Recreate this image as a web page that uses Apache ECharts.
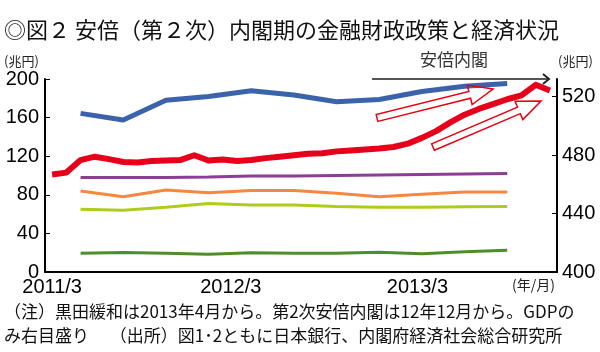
<!DOCTYPE html>
<html>
<head>
<meta charset="utf-8">
<script src="https://cdn.jsdelivr.net/npm/echarts@6/dist/echarts.min.js"></script>
<style>
  html, body { margin: 0; padding: 0; background: #fff; }
  #main { width: 600px; height: 352px; }
</style>
</head>
<body>
<div id="main"></div>
<script>
// 月次カテゴリ (2011/3 - 2014/2)
var months = ['2011/3','2011/4','2011/5','2011/6','2011/7','2011/8','2011/9','2011/10','2011/11','2011/12',
  '2012/1','2012/2','2012/3','2012/4','2012/5','2012/6','2012/7','2012/8','2012/9','2012/10','2012/11','2012/12',
  '2013/1','2013/2','2013/3','2013/4','2013/5','2013/6','2013/7','2013/8','2013/9','2013/10','2013/11','2013/12',
  '2014/1','2014/2'];
var xLabels = ['2011/3', '2012/3', '2013/3'];
// 四半期データの位置 (中間月)
var quarterMonths = ['2011/5','2011/8','2011/11','2012/2','2012/5','2012/8','2012/11','2013/2','2013/5','2013/8','2013/11'];

// 月次 (左目盛り)
var redSeries = [101, 103, 116, 119.5, 117, 114, 113.5, 115, 115.5, 116, 121, 115.5,
  116.5, 115, 116, 118, 119.5, 121, 122.5, 123, 125, 126, 127, 128,
  129.5, 133, 139, 146, 155, 163, 169, 174, 179, 183, 194, 188];
// 四半期 GDP (右目盛り)
var gdp = [508.5, 504, 517.5, 520, 524, 521, 516.5, 518, 523.5, 527, 529];
// 四半期 (左目盛り)
var purpleSeries = [98, 98, 98, 98.5, 99.5, 99.5, 100, 100.5, 101, 101.5, 102];
var orangeSeries = [84, 78, 85, 82, 84.5, 84.5, 81.5, 78, 80.5, 83, 83];
var limeSeries = [65, 64, 67, 71, 69.5, 69.5, 68, 67, 67, 67.5, 68];
var greenSeries = [19.5, 20.3, 19.5, 18.5, 20, 19.5, 19.5, 20.5, 19, 21, 22.5];

var leftTicks = [0, 40, 80, 120, 160, 200];
var rightTicks = [400, 440, 480, 520];

function quarterly(arr) {
  return quarterMonths.map(function (m, i) { return [m, arr[i]]; });
}

// 白抜き矢印
function arrowPts(x0, y0, x1, y1) {
  var sw = 3.5, hw = 10, hl = 24;
  var dx = x1 - x0, dy = y1 - y0, L = Math.sqrt(dx * dx + dy * dy);
  var ux = dx / L, uy = dy / L, nx = -uy, ny = ux;
  var kx = x1 - ux * hl, ky = y1 - uy * hl;
  return [
    [x0 + nx * sw, y0 + ny * sw], [kx + nx * sw, ky + ny * sw], [kx + nx * hw, ky + ny * hw],
    [x1, y1],
    [kx - nx * hw, ky - ny * hw], [kx - nx * sw, ky - ny * sw], [x0 - nx * sw, y0 - ny * sw]
  ];
}

var FONT = 'Liberation Sans, Arial, sans-serif';
var JFONT = 'Noto Sans CJK JP, sans-serif';

var myChart = echarts.init(document.getElementById('main'));
var option = {
  animation: false,
  title: {
    text: '◎図２ 安倍（第２次）内閣期の金融財政政策と経済状況',
    left: 4, top: 19, padding: 0,
    textStyle: { fontFamily: JFONT, fontSize: 22, fontWeight: 'normal', color: '#111' }
  },
  grid: { left: 45, right: 43, top: 79, bottom: 80, outerBoundsMode: 'none' },
  xAxis: {
    type: 'category',
    data: months,
    boundaryGap: true,
    axisLine: { lineStyle: { color: '#000', width: 2 } },
    axisTick: { inside: true, length: 5, interval: 0, lineStyle: { color: '#000', width: 1 } },
    axisLabel: {
      interval: function (i, v) { return xLabels.indexOf(v) >= 0; },
      margin: 5,
      formatter: function (v) {
        var k = xLabels.indexOf(v);
        return '{l' + k + '|' + v + '}';
      },
      rich: {
        l0: { fontFamily: FONT, fontSize: 20, color: '#000', padding: [0, 0, 0, 0] },
        l1: { fontFamily: FONT, fontSize: 20, color: '#000', padding: [0, 0, 0, 16] },
        l2: { fontFamily: FONT, fontSize: 20, color: '#000', padding: [0, 0, 0, 48] }
      }
    },
    splitLine: { show: false }
  },
  yAxis: [{
    type: 'value', min: 0, max: 200, interval: 40,
    axisLine: { show: true, lineStyle: { color: '#000', width: 2 } },
    axisTick: { show: true, inside: true, length: 5, customValues: leftTicks, lineStyle: { color: '#000' } },
    axisLabel: { customValues: leftTicks, margin: 6, fontFamily: FONT, fontSize: 20, color: '#000' },
    splitLine: { show: false }
  }, {
    type: 'value', min: 400, max: 532, interval: 40, position: 'right',
    axisLine: { show: true, lineStyle: { color: '#000', width: 2 } },
    axisTick: { show: true, inside: true, length: 5, customValues: rightTicks, lineStyle: { color: '#000' } },
    axisLabel: { customValues: rightTicks, margin: 5, fontFamily: FONT, fontSize: 20, color: '#000' },
    splitLine: { show: false }
  }],
  series: [
    { name: 'GDP', type: 'line', yAxisIndex: 1, data: quarterly(gdp), symbol: 'none',
      lineStyle: { color: '#3b63ac', width: 5 } },
    { type: 'line', data: quarterly(purpleSeries), symbol: 'none', lineStyle: { color: '#8e3d97', width: 3 } },
    { type: 'line', data: quarterly(orangeSeries), symbol: 'none', lineStyle: { color: '#f5873e', width: 3 } },
    { type: 'line', data: quarterly(limeSeries), symbol: 'none', lineStyle: { color: '#b0cb1c', width: 3 } },
    { type: 'line', data: quarterly(greenSeries), symbol: 'none', lineStyle: { color: '#4e8d2b', width: 3 } },
    { name: 'マネタリーベース', type: 'line', data: redSeries, symbol: 'none',
      lineStyle: { color: '#e8001a', width: 6, join: 'round' } }
  ],
  graphic: [
    { type: 'text', left: 4, top: 55, style: { text: '(兆円)', font: '13px ' + JFONT, fill: '#222' } },
    { type: 'text', left: 558, top: 55, style: { text: '(兆円)', font: '13px ' + JFONT, fill: '#222' } },
    { type: 'text', left: 512, top: 278, style: { text: '(年/月)', font: '14px ' + JFONT, fill: '#222' } },
    { type: 'text', left: 420, top: 51, style: { text: '安倍内閣', font: '17px ' + JFONT, fill: '#333' } },
    { type: 'line', shape: { x1: 372, y1: 79, x2: 549, y2: 79 }, style: { stroke: '#555', lineWidth: 2 } },
    { type: 'polyline', shape: { points: [[543, 74], [549, 79], [543, 84]] }, style: { stroke: '#222', lineWidth: 2, fill: null } },
    { type: 'polygon', shape: { points: arrowPts(377, 118, 493, 89) }, style: { stroke: '#e60012', lineWidth: 1.5, fill: null }, z: 10 },
    { type: 'polygon', shape: { points: arrowPts(433, 147, 541, 101) }, style: { stroke: '#e60012', lineWidth: 1.5, fill: null }, z: 10 },
    { type: 'text', left: 4, top: 303, style: { text: '（注）黒田緩和は2013年4月から。第2次安倍内閣は12年12月から。GDPの', font: '17px ' + JFONT, fill: '#111' } },
    { type: 'text', left: 4, top: 327, style: { text: 'み右目盛り　 （出所）図1･2ともに日本銀行、内閣府経済社会総合研究所', font: '17px ' + JFONT, fill: '#111' } }
  ]
};
myChart.setOption(option);
</script>
</body>
</html>
